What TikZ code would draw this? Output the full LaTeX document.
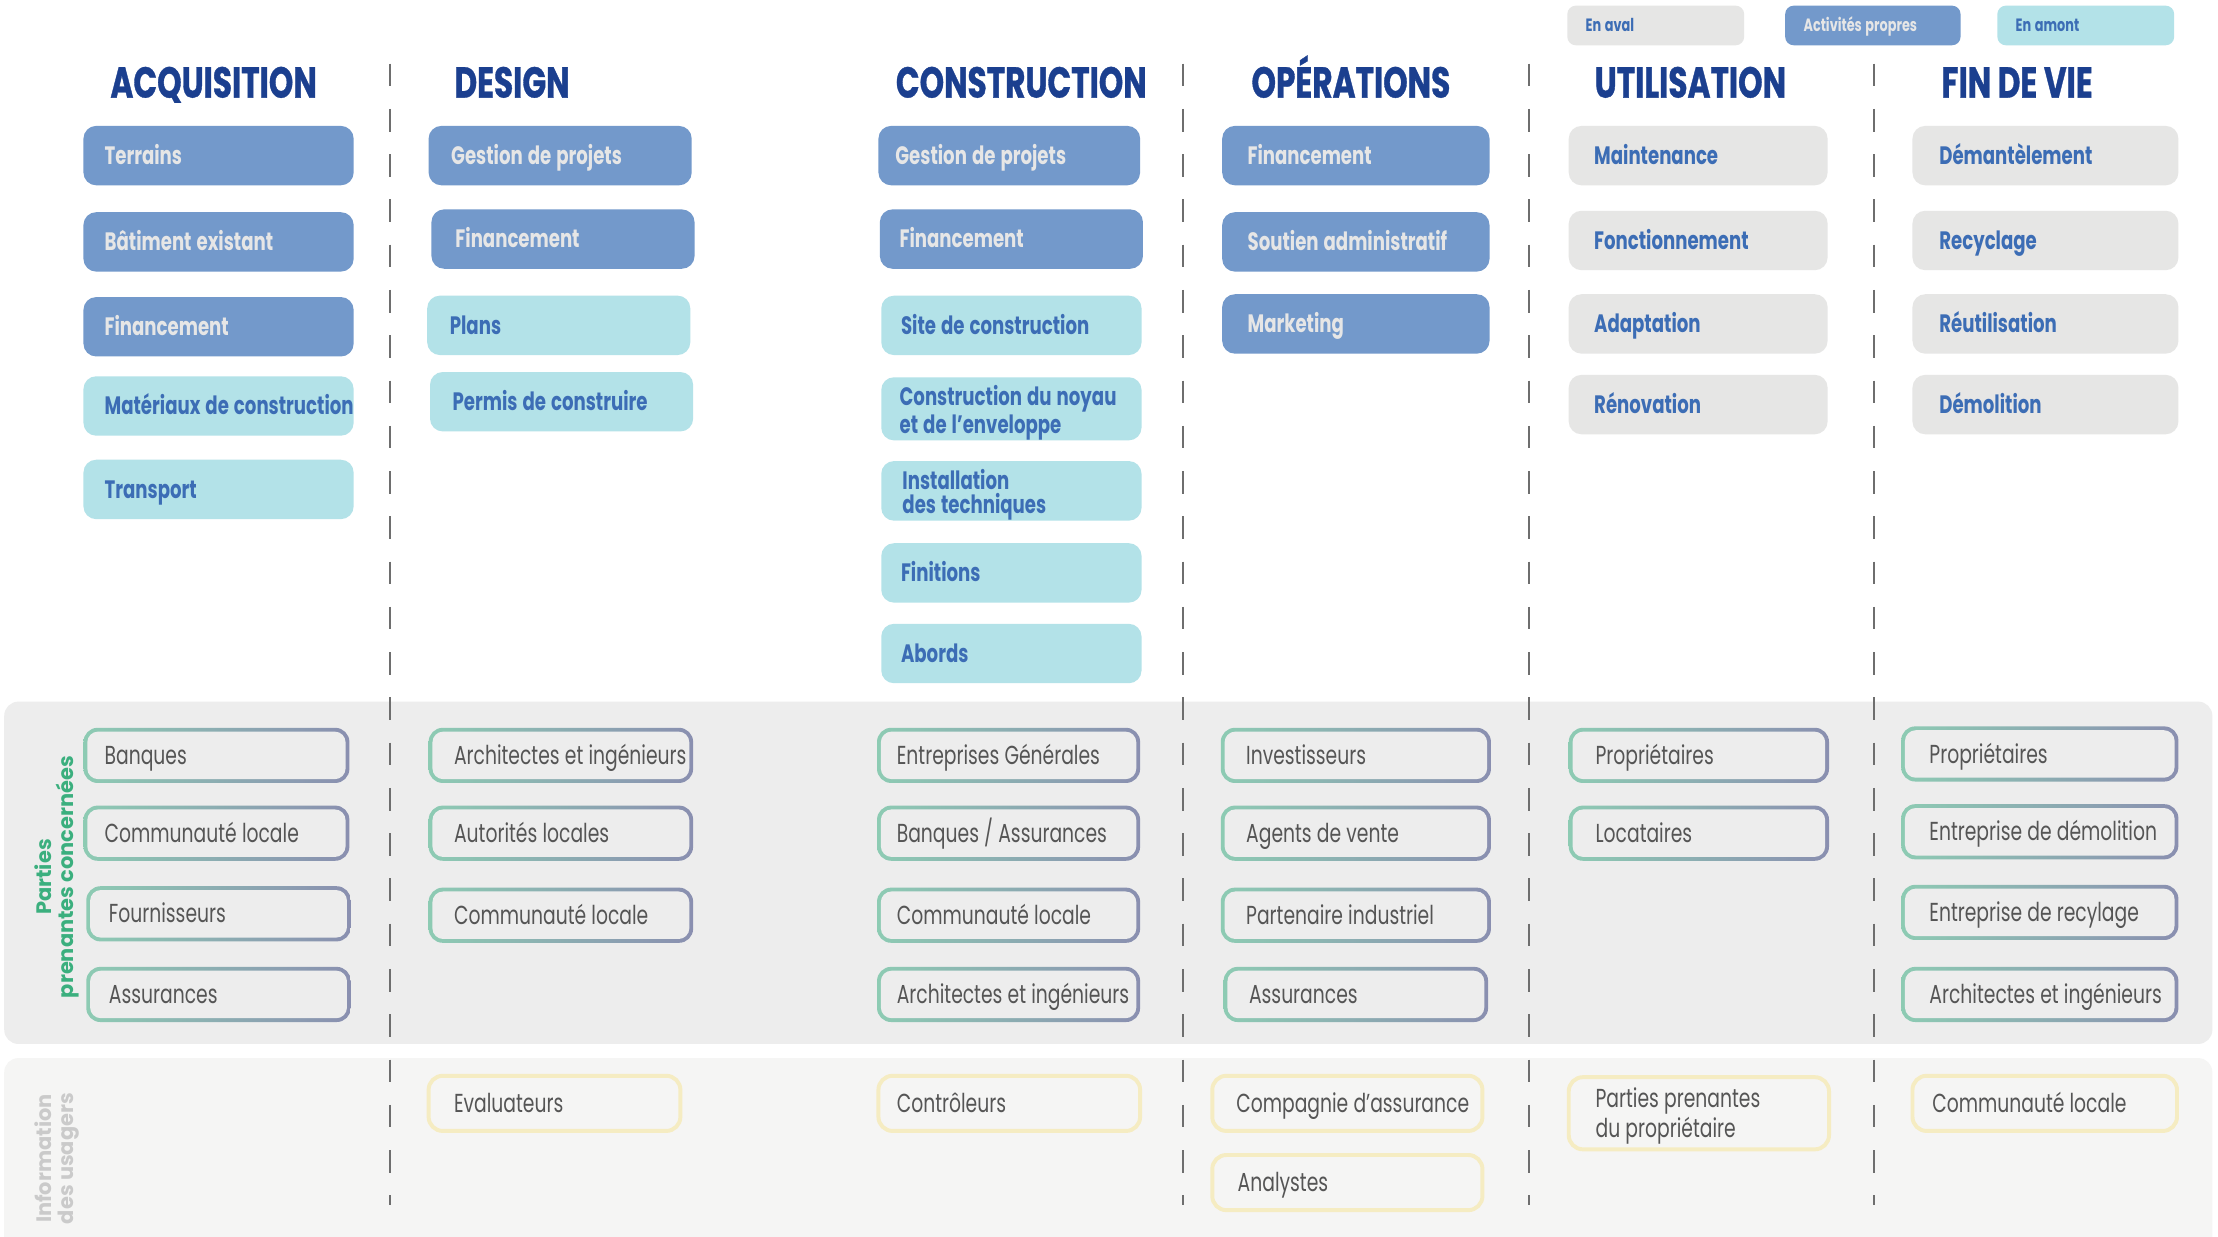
\documentclass[tikz,border=0pt]{standalone}
\usepackage{fontspec}
\setmainfont{Poppins}[FakeStretch=0.72]
\newfontfamily\headfont{Poppins}[FakeStretch=0.72, FakeBold=0.8]
\newfontfamily\sidefont{Poppins}
\definecolor{navy}{HTML}{1B3F8F}
\definecolor{ownB}{HTML}{7399CB}
\definecolor{ownT}{HTML}{E6E6E6}
\definecolor{upC}{HTML}{B3E2E8}
\definecolor{downG}{HTML}{E6E6E5}
\definecolor{boxT}{HTML}{3C6DB5}
\definecolor{panelA}{HTML}{EDEDED}
\definecolor{panelB}{HTML}{F5F5F4}
\definecolor{stkL}{HTML}{8DCBB3}
\definecolor{stkR}{HTML}{8A8FB0}
\definecolor{stkT}{HTML}{555555}
\definecolor{infoY}{HTML}{F5ECC2}
\definecolor{sideG}{HTML}{3BAF7E}
\definecolor{sideI}{HTML}{CACACA}
\definecolor{dashG}{HTML}{6E6E6E}
\newcommand\mkbox[7]{%
 \pgfmathsetmacro\bw{(#4-#3)*0.5}%
 \pgfmathsetmacro\bp{#6*0.5}%
 \pgfmathsetmacro\bt{\bw-2*\bp}%
 \node[#1, anchor=west, outer sep=0pt, minimum width=\bw pt, inner xsep=\bp pt, text width=\bt pt] (#2) at (#3,#5) {\mbox{\spaceskip=0.2em\relax #7}};}
\newcommand\mkboxii[9]{%
 \pgfmathsetmacro\bw{(#4-#3)*0.5}%
 \pgfmathsetmacro\bp{#6*0.5}%
 \pgfmathsetmacro\bt{\bw-2*\bp}%
 \node[#1, text height=, text depth=, anchor=west, outer sep=0pt, minimum width=\bw pt, inner xsep=\bp pt, text width=\bt pt] (#2) at (#3,#5) {\mbox{\spaceskip=0.2em\relax\rule{0pt}{#9}#7}\\\mbox{\spaceskip=0.2em\relax #8}};}
\tikzset{
 box/.style={rectangle, rounded corners=4.5pt, minimum height=21pt, inner ysep=0pt, align=left, text height=6.2pt, text depth=0pt, font=\bfseries\fontsize{8.9}{8.7}\selectfont},
 own/.style={box, fill=ownB, text=ownT},
 upst/.style={box, fill=upC, text=boxT},
 downst/.style={box, fill=downG, text=boxT},
 legend/.style={minimum height=14pt, rounded corners=3pt, text height=4.4pt, font=\bfseries\fontsize{6.3}{6.5}\selectfont},
 stk/.style={rectangle, rounded corners=5pt, minimum height=19.5pt, inner ysep=0pt, align=left, text=stkT, text height=6.4pt, text depth=0pt, font=\fontsize{9.2}{8.7}\selectfont,
   path picture={
     \shade[left color=stkL, right color=stkR] (path picture bounding box.north west) rectangle (path picture bounding box.south east);
     \fill[panelA, rounded corners=3.8pt] ([shift={(1.35pt,-1.35pt)}]path picture bounding box.north west) rectangle ([shift={(-1.35pt,1.35pt)}]path picture bounding box.south east);
   }},
 info/.style={rectangle, rounded corners=5pt, minimum height=19.5pt, inner ysep=0pt, align=left, draw=infoY, line width=1.4pt, fill=panelB, text=stkT, text height=6.4pt, text depth=0pt, font=\fontsize{9.2}{8.7}\selectfont},
 head/.style={font=\headfont\bfseries\fontsize{15.3}{16}\selectfont, text=navy, anchor=base},
 dashline/.style={draw=dashG, line width=0.75pt, dash pattern=on 8pt off 8pt},
 side/.style={rotate=90, align=center, font=\sidefont\bfseries\fontsize{7.4}{7.8}\selectfont},
}
\begin{document}
\begin{tikzpicture}[x=0.5pt,y=-0.5pt]
\useasboundingbox (0,0) rectangle (1568,874);
\fill[white] (0,0) rectangle (1568,874);
% panels
\fill[panelA, rounded corners=5pt] (3,496) rectangle (1564,738);
\fill[panelB, rounded corners=5pt] (3,748) rectangle (1564,890);
% separators
\foreach \xx in {276,836,1081,1325} \draw[dashline] (\xx,45) -- (\xx,852);
% legend
\mkbox{downst,legend}{lgA}{1108}{1233}{18}{13}{En aval}
\mkbox{own,legend}{lgB}{1262}{1386}{18}{13}{Activités propres}
\mkbox{upst,legend}{lgC}{1412}{1537}{18}{13}{En amont}
% headings
\node[head] (hA) at (151,69) {ACQUISITION};
\node[head] (hD) at (362,69) {DESIGN};
\node[head] (hC) at (722,69) {CONSTRUCTION};
\node[head] (hO) at (955,69) {OPÉRATIONS};
\node[head] (hU) at (1195,69) {UTILISATION};
\node[head] (hF) at (1426,69) {FIN DE VIE};
% column 1
\mkbox{own}{a1}{59}{250}{110}{15}{Terrains}
\mkbox{own}{a2}{59}{250}{171}{15}{Bâtiment existant}
\mkbox{own}{a3}{59}{250}{231}{15}{Financement}
\mkbox{upst}{a4}{59}{250}{287}{15}{Matériaux de construction}
\mkbox{upst}{a5}{59}{250}{346}{15}{Transport}
% column 2
\mkbox{own}{d1}{303}{489}{110}{16}{Gestion de projets}
\mkbox{own}{d2}{305}{491}{169}{17}{Financement}
\mkbox{upst}{d3}{302}{488}{230}{16}{Plans}
\mkbox{upst}{d4}{304}{490}{284}{16}{Permis de construire}
% column 3
\mkbox{own}{c1}{621}{806}{110}{12}{Gestion de projets}
\mkbox{own}{c2}{622}{808}{169}{14}{Financement}
\mkbox{upst}{c3}{623}{807}{230}{14}{Site de construction}
\mkboxii{upst}{c4}{623}{807}{289}{13}{Construction du noyau}{et de l'enveloppe}{10pt}
\mkboxii{upst}{c5}{623}{807}{347}{15}{Installation}{des techniques}{10pt}
\mkbox{upst}{c6}{623}{807}{405}{14}{Finitions}
\mkbox{upst}{c7}{623}{807}{462}{14}{Abords}
% column 4
\mkbox{own}{o1}{864}{1053}{110}{18}{Financement}
\mkbox{own}{o2}{864}{1053}{171}{18}{Soutien administratif}
\mkbox{own}{o3}{864}{1053}{229}{18}{Marketing}
% column 5
\mkbox{downst}{u1}{1109}{1292}{110}{18}{Maintenance}
\mkbox{downst}{u2}{1109}{1292}{170}{18}{Fonctionnement}
\mkbox{downst}{u3}{1109}{1292}{229}{18}{Adaptation}
\mkbox{downst}{u4}{1109}{1292}{286}{18}{Rénovation}
% column 6
\mkbox{downst}{f1}{1352}{1540}{110}{19}{Démantèlement}
\mkbox{downst}{f2}{1352}{1540}{170}{19}{Recyclage}
\mkbox{downst}{f3}{1352}{1540}{229}{19}{Réutilisation}
\mkbox{downst}{f4}{1352}{1540}{286}{19}{Démolition}
% side labels
\node[side, text=sideG] (sideA) at (40,620) {Parties\\prenantes concernées};
\node[side, text=sideI] (sideB) at (40,819) {Information\\des usagers};
% stakeholders
\mkbox{stk}{sa1}{59}{247}{534}{15}{Banques}
\mkbox{stk}{sa2}{59}{247}{589}{15}{Communauté locale}
\mkbox{stk}{sa3}{61}{248}{646}{16}{Fournisseurs}
\mkbox{stk}{sa4}{61}{248}{703}{16}{Assurances}
\mkbox{stk}{sd1}{303}{490}{534}{18}{Architectes et ingénieurs}
\mkbox{stk}{sd2}{303}{490}{589}{18}{Autorités locales}
\mkbox{stk}{sd3}{303}{490}{647}{18}{Communauté locale}
\mkbox{stk}{sc1}{620}{806}{534}{14}{Entreprises Générales}
\mkbox{stk}{sc2}{620}{806}{589}{14}{Banques / Assurances}
\mkbox{stk}{sc3}{620}{806}{647}{14}{Communauté locale}
\mkbox{stk}{sc4}{620}{806}{703}{14}{Architectes et ingénieurs}
\mkbox{stk}{so1}{863}{1054}{534}{18}{Investisseurs}
\mkbox{stk}{so2}{863}{1054}{589}{18}{Agents de vente}
\mkbox{stk}{so3}{863}{1054}{647}{18}{Partenaire industriel}
\mkbox{stk}{so4}{865}{1052}{703}{18}{Assurances}
\mkbox{stk}{su1}{1109}{1293}{534}{19}{Propriétaires}
\mkbox{stk}{su2}{1109}{1293}{589}{19}{Locataires}
\mkbox{stk}{sf1}{1344}{1540}{533}{20}{Propriétaires}
\mkbox{stk}{sf2}{1344}{1540}{588}{20}{Entreprise de démolition}
\mkbox{stk}{sf3}{1344}{1540}{645}{20}{Entreprise de recylage}
\mkbox{stk}{sf4}{1344}{1540}{703}{20}{Architectes et ingénieurs}
% info
\mkbox{info}{id1}{303}{481}{780}{18}{Evaluateurs}
\mkbox{info}{ic1}{621}{806}{780}{13}{Contrôleurs}
\mkbox{info}{io1}{857}{1048}{780}{17}{Compagnie d'assurance}
\mkbox{info}{io2}{857}{1048}{836}{18}{Analystes}
\mkboxii{info,minimum height=25.5pt}{iu1}{1109}{1293}{787}{19}{Parties prenantes}{du propriétaire}{8.9pt}
\mkbox{info}{if1}{1352}{1539}{780}{14}{Communauté locale}
\end{tikzpicture}
\end{document}
